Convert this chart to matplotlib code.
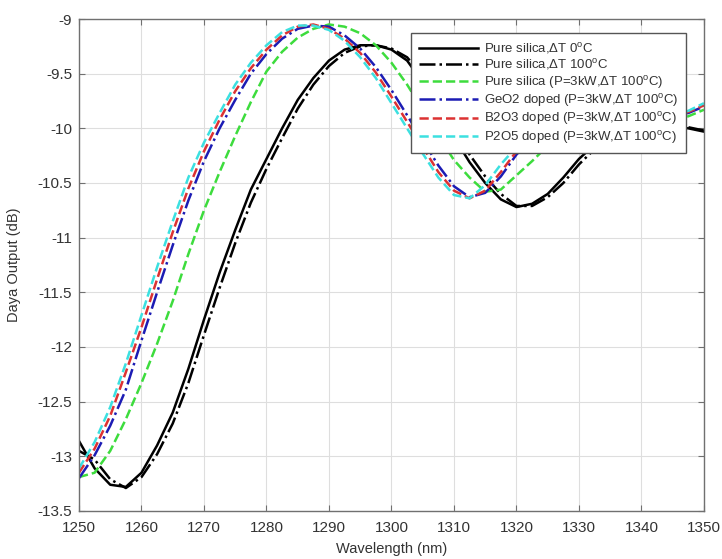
import matplotlib
matplotlib.use('Agg')
import matplotlib.pyplot as plt
from matplotlib.ticker import MultipleLocator, FormatStrFormatter

plt.rcParams['font.family'] = ['Liberation Sans', 'DejaVu Sans']
plt.rcParams['mathtext.fontset'] = 'custom'
plt.rcParams['mathtext.rm'] = 'Liberation Sans'
plt.rcParams['axes.unicode_minus'] = False

wavelength = [1250, 1252.5, 1255, 1257.5, 1260, 1262.5, 1265, 1267.5, 1270, 1272.5,
              1275, 1277.5, 1280, 1282.5, 1285, 1287.5, 1290, 1292.5, 1295, 1297.5,
              1300, 1302.5, 1305, 1307.5, 1310, 1312.5, 1315, 1317.5, 1320, 1322.5,
              1325, 1327.5, 1330, 1332.5, 1335, 1337.5, 1340, 1342.5, 1345, 1347.5, 1350]

pure_0 = [-12.86, -13.11, -13.26, -13.28, -13.15, -12.90, -12.60, -12.20, -11.75, -11.32,
          -10.93, -10.56, -10.28, -10.00, -9.74, -9.54, -9.38, -9.28, -9.24, -9.24,
          -9.28, -9.38, -9.58, -9.83, -10.08, -10.31, -10.50, -10.65, -10.72, -10.69,
          -10.60, -10.45, -10.28, -10.15, -10.07, -10.02, -9.99, -9.98, -9.98, -10.00, -10.03]

pure_100 = [-12.95, -13.03, -13.21, -13.29, -13.19, -12.98, -12.70, -12.33, -11.89, -11.46,
            -11.05, -10.68, -10.37, -10.09, -9.82, -9.60, -9.43, -9.31, -9.25, -9.24,
            -9.27, -9.35, -9.52, -9.75, -10.00, -10.24, -10.44, -10.60, -10.71, -10.71,
            -10.63, -10.50, -10.33, -10.19, -10.10, -10.04, -10.00, -9.98, -9.98, -9.99, -10.02]

pure_3kw = [-13.19, -13.15, -12.95, -12.66, -12.33, -11.97, -11.58, -11.15, -10.75, -10.40,
            -10.07, -9.76, -9.48, -9.30, -9.17, -9.09, -9.05, -9.07, -9.13, -9.24,
            -9.40, -9.60, -9.83, -10.07, -10.29, -10.45, -10.58, -10.56, -10.43, -10.30,
            -10.16, -10.09, -10.04, -10.01, -9.98, -9.96, -9.95, -9.94, -9.92, -9.89, -9.83]

geo2 = [-13.20, -12.99, -12.72, -12.39, -11.94, -11.50, -11.07, -10.66, -10.30, -10.00,
        -9.74, -9.50, -9.32, -9.18, -9.09, -9.06, -9.07, -9.15, -9.27, -9.44,
        -9.65, -9.88, -10.11, -10.34, -10.53, -10.63, -10.59, -10.44, -10.24, -10.10,
        -10.02, -9.98, -9.95, -9.93, -9.92, -9.91, -9.90, -9.89, -9.88, -9.86, -9.80]

b2o3 = [-13.15, -12.93, -12.63, -12.23, -11.82, -11.38, -10.95, -10.55, -10.21, -9.92,
        -9.66, -9.45, -9.28, -9.15, -9.07, -9.05, -9.09, -9.18, -9.31, -9.49,
        -9.71, -9.94, -10.17, -10.40, -10.57, -10.64, -10.57, -10.40, -10.21, -10.08,
        -10.00, -9.96, -9.94, -9.92, -9.91, -9.90, -9.90, -9.89, -9.88, -9.85, -9.79]

p2o5 = [-13.11, -12.87, -12.55, -12.15, -11.71, -11.27, -10.85, -10.45, -10.13, -9.86,
        -9.60, -9.40, -9.24, -9.12, -9.06, -9.06, -9.10, -9.20, -9.35, -9.54,
        -9.77, -10.00, -10.23, -10.45, -10.61, -10.64, -10.52, -10.33, -10.17, -10.06,
        -9.99, -9.95, -9.93, -9.91, -9.90, -9.89, -9.89, -9.88, -9.87, -9.84, -9.77]

labels = [r'Pure silica,$\Delta$T 0$^{\mathrm{o}}$C',
          r'Pure silica,$\Delta$T 100$^{\mathrm{o}}$C',
          r'Pure silica (P=3kW,$\Delta$T 100$^{\mathrm{o}}$C)',
          r'GeO2 doped (P=3kW,$\Delta$T 100$^{\mathrm{o}}$C)',
          r'B2O3 doped (P=3kW,$\Delta$T 100$^{\mathrm{o}}$C)',
          r'P2O5 doped (P=3kW,$\Delta$T 100$^{\mathrm{o}}$C)']

fig = plt.figure(figsize=(7.22, 5.59), dpi=100)
ax = fig.add_axes([0.1094, 0.0859, 0.8656, 0.8801])

lw = 1.8
ax.plot(wavelength, pure_0, color='black', ls='-', lw=lw, label=labels[0])
ax.plot(wavelength, pure_100, color='black', ls='-.', lw=lw, label=labels[1])
ax.plot(wavelength, pure_3kw, color='#3ddc3d', ls='--', lw=lw, label=labels[2])
ax.plot(wavelength, geo2, color='#1c1cb4', ls='-.', lw=lw, label=labels[3])
ax.plot(wavelength, b2o3, color='#dc3232', ls='--', lw=lw, label=labels[4])
ax.plot(wavelength, p2o5, color='#3ce0e0', ls='--', lw=lw, label=labels[5])

ax.set_xlim(1250, 1350)
ax.set_ylim(-13.5, -9)
ax.xaxis.set_major_locator(MultipleLocator(10))
ax.yaxis.set_major_locator(MultipleLocator(0.5))
ax.yaxis.set_major_formatter(FormatStrFormatter('%g'))
ax.grid(True, color='#dedede', lw=0.8)
ax.set_axisbelow(True)
for s in ax.spines.values():
    s.set_color('#707070')
    s.set_linewidth(1.0)
ax.tick_params(direction='in', top=True, right=True, length=4, color='#707070',
               labelsize=11, labelcolor='#333333', pad=5)
ax.tick_params(axis='x', pad=7)

ax.set_xlabel('Wavelength (nm)', fontsize=10.5, color='#333333', labelpad=5)
ax.set_ylabel('Daya Output (dB)', fontsize=10.5, color='#333333', labelpad=12)

leg = ax.legend(loc='upper right', bbox_to_anchor=(0.971, 0.9715), borderaxespad=0,
                fontsize=9.5, handlelength=4.5, handletextpad=0.4, labelspacing=0.1,
                borderpad=0.6, fancybox=False, framealpha=1, edgecolor='#555555')
leg.get_frame().set_linewidth(1.0)
for t in leg.get_texts():
    t.set_color('#333333')

fig.savefig('out.png', dpi=100)
